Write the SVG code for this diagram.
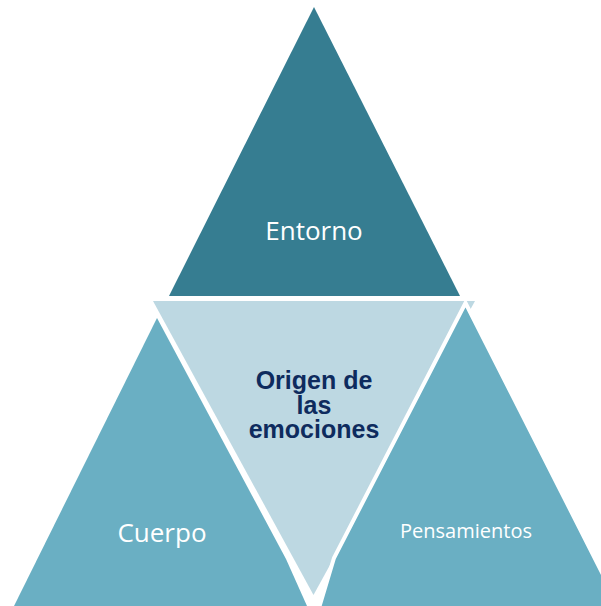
<svg xmlns="http://www.w3.org/2000/svg" width="601" height="606" viewBox="0 0 601 606">
  <style>
    .dark { fill: #367D91; }
    .light { fill: #BDD8E2; }
    .mid { fill: #6AAFC3; }
    .outl { stroke: #FFFFFF; stroke-width: 4; stroke-linejoin: miter; }
    .lbl { font-family: "Open Sans", "Noto Sans", "Liberation Sans", sans-serif; fill: #FFFFFF; text-anchor: middle; }
    .core { font-family: "Liberation Sans", Arial, sans-serif; font-weight: bold; fill: #0E2B5E; text-anchor: middle; font-size: 25px; }
  </style>
  <rect width="601" height="606" fill="#FFFFFF"/>
  <g id="entorno">
    <polygon class="dark" points="314,7 169,296 460,296"/>
    <text class="lbl" x="314" y="240" font-size="26">Entorno</text>
  </g>
  <g id="cuerpo">
    <polygon class="mid" points="157,318 14,606 307,606 286,559"/>
    <text class="lbl" x="162" y="542" font-size="26">Cuerpo</text>
  </g>
  <g id="origen">
    <polygon class="light" points="153,301 475,301 313.5,595"/>
    <text class="core" x="314" y="389">Origen de</text>
    <text class="core" x="314" y="413.5">las</text>
    <text class="core" x="314" y="438">emociones</text>
  </g>
  <g id="pensamientos">
    <polygon class="mid outl" points="465.5,303 334,558 319,608 620,608"/>
    <text class="lbl" x="466" y="538" font-size="20">Pensamientos</text>
  </g>
  <g id="connectors"/>
</svg>
